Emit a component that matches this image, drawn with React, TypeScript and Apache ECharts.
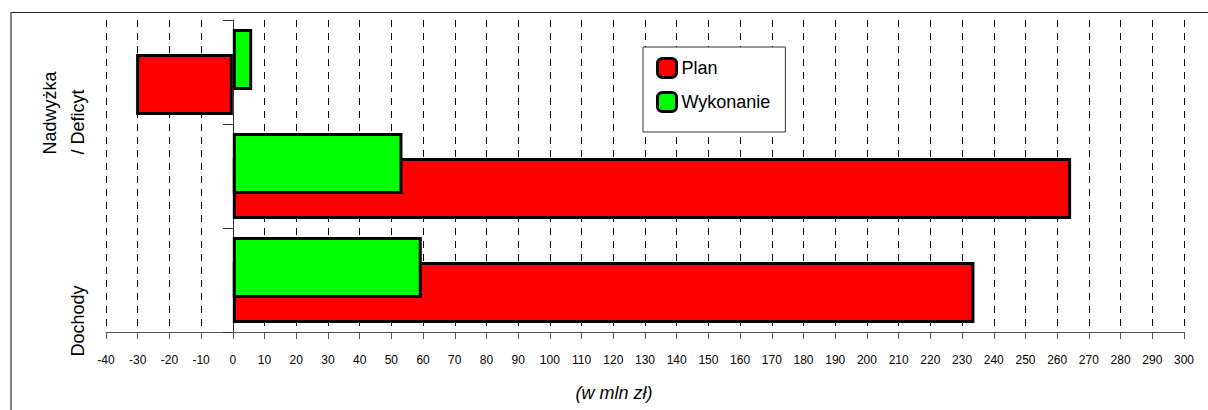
import React, { useEffect, useRef } from 'react';
import * as echarts from 'echarts';

const categories = ['Dochody', 'Wydatki', 'Nadwyżka\n/ Deficyt'];
const seriesNames = ['Plan', 'Wykonanie'];
const planValues = [233.9, 264.4, -30.5];
const wykonanieValues = [59.6, 53.5, 6.1];
const xMin = -40;
const xMax = 300;
const xStep = 10;
const axisTitle = '(w mln zł)';

export default function App() {
  const ref = useRef<HTMLDivElement>(null);
  useEffect(() => {
    const chart = echarts.init(ref.current!, null, { renderer: 'svg' });
    const font = "'Liberation Sans', Arial, sans-serif";
    chart.setOption({
      animation: false,
      backgroundColor: '#ffffff',
      textStyle: { fontFamily: font },
      grid: { left: 106, right: 24, top: 20, bottom: 78, containLabel: false },
      legend: {
        data: seriesNames,
        orient: 'vertical',
        left: 643,
        top: 47,
        padding: [10, 15, 19, 13],
        itemGap: 12,
        itemWidth: 19,
        itemHeight: 19,
        icon: 'roundRect',
        backgroundColor: '#ffffff',
        borderColor: '#333333',
        borderWidth: 1,
        selectedMode: false,
        textStyle: { fontSize: 18, color: '#000', fontFamily: font },
        itemStyle: { borderColor: '#000', borderWidth: 3 },
      },
      xAxis: {
        type: 'value',
        min: xMin,
        max: xMax,
        interval: xStep,
        axisLine: { show: true, lineStyle: { color: '#555', width: 1 } },
        axisTick: { show: true, length: 7, lineStyle: { color: '#555' } },
        axisLabel: { color: '#000', fontSize: 12, margin: 22, fontFamily: font },
        splitLine: { show: true, lineStyle: { color: '#000', type: [7, 6], width: 1 } },
        name: axisTitle,
        nameLocation: 'middle',
        nameGap: 52,
        nameTextStyle: {
          fontSize: 18,
          fontStyle: 'italic',
          color: '#000',
          fontFamily: font,
          padding: [0, 62, 0, 0],
        },
      },
      yAxis: [
        {
          type: 'category',
          data: categories,
          axisLine: { show: true, onZero: true, lineStyle: { color: '#333', width: 1 } },
          axisTick: { show: true, length: 10, lineStyle: { color: '#333' } },
          axisLabel: { show: false },
          splitLine: { show: false },
        },
        {
          type: 'category',
          data: categories,
          position: 'left',
          axisLine: { show: false, onZero: false },
          axisTick: { show: false },
          splitLine: { show: false },
          axisLabel: {
            show: true,
            interval: 1,
            rotate: 90,
            margin: 14,
            padding: [0, 82, 0, 0],
            formatter: (v: string) => v.split('\n').map((s) => `{a|${s}}`).join('\n'),
            rich: {
              a: { fontSize: 18, lineHeight: 28, align: 'left', color: '#000', fontFamily: font },
            },
          },
        },
      ],
      series: [
        {
          name: seriesNames[1],
          type: 'bar',
          data: wykonanieValues,
          xAxisIndex: 0,
          yAxisIndex: 0,
          barWidth: 61,
          barGap: '-59%',
          z: 3,
          itemStyle: { color: '#00ff00', borderColor: '#000', borderWidth: 3 },
        },
        {
          name: seriesNames[0],
          type: 'bar',
          data: planValues,
          xAxisIndex: 0,
          yAxisIndex: 0,
          barWidth: 61,
          barGap: '-59%',
          z: 2,
          itemStyle: { color: '#ff0000', borderColor: '#000', borderWidth: 3 },
        },
      ],
      graphic: [
        {
          type: 'line',
          shape: { x1: 11, y1: 12.5, x2: 1208, y2: 12.5 },
          style: { stroke: '#222', lineWidth: 1 },
          silent: true,
        },
        {
          type: 'line',
          shape: { x1: 11, y1: 12, x2: 11, y2: 410 },
          style: { stroke: '#555', lineWidth: 1.5 },
          silent: true,
        },
      ],
    });
    return () => chart.dispose();
  }, []);
  return (
    <div
      ref={ref}
      style={{ position: 'absolute', left: 0, top: 0, width: 1208, height: 410 }}
    />
  );
}
